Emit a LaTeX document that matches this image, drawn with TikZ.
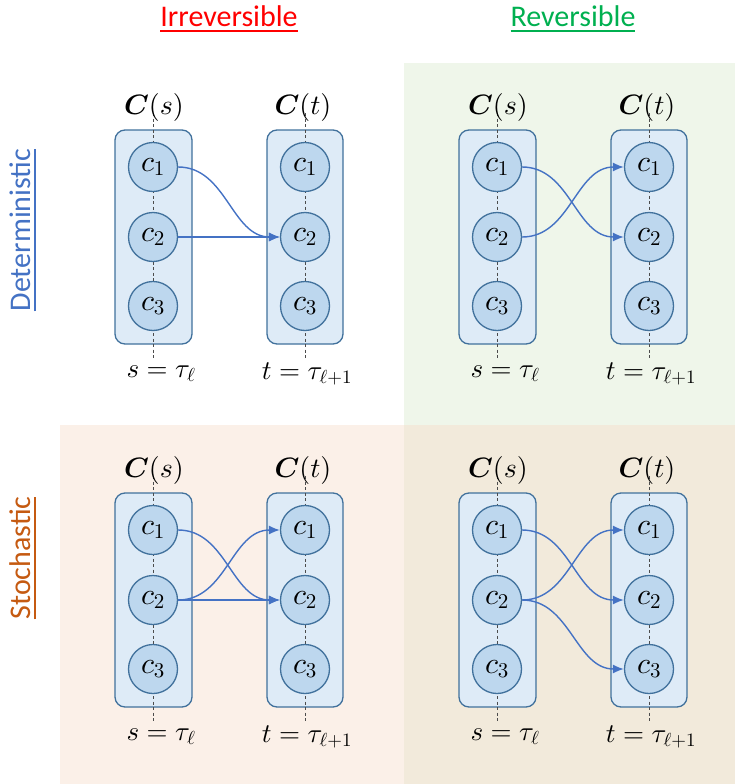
\documentclass[tikz,border=0pt]{standalone}
\usepackage{amsmath}
\usepackage[no-math]{fontspec}
\setmainfont{Carlito}
\usetikzlibrary{arrows.meta}

% scalable Computer Modern math at any size
\DeclareFontFamily{OML}{cmm}{\skewchar\font127}
\DeclareFontShape{OML}{cmm}{m}{it}{<->cmmi10}{}
\DeclareFontShape{OML}{cmm}{b}{it}{<->cmmib10}{}
\DeclareFontFamily{OT1}{cmr}{\hyphenchar\font45}
\DeclareFontShape{OT1}{cmr}{m}{n}{<->cmr10}{}
\DeclareFontShape{OT1}{cmr}{bx}{n}{<->cmbx10}{}
\DeclareFontFamily{OMS}{cmsy}{\skewchar\font48}
\DeclareFontShape{OMS}{cmsy}{m}{n}{<->cmsy10}{}
\DeclareFontShape{OMS}{cmsy}{b}{n}{<->cmbsy10}{}

\newcommand{\ulined}[1]{\vtop{\hbox{#1}\kern3pt\hrule height 2pt}}

\definecolor{boxfill}{HTML}{DEEBF7}
\definecolor{cellfill}{HTML}{BDD7EE}
\definecolor{boxline}{HTML}{41719C}
\definecolor{arrowblue}{HTML}{4472C4}
\definecolor{irrred}{HTML}{FF0000}
\definecolor{revgreen}{HTML}{00B050}
\definecolor{stoorange}{HTML}{C55A11}
\definecolor{bggreen}{HTML}{EFF6EA}
\definecolor{bgpeach}{HTML}{FBF0E8}
\definecolor{bgtan}{HTML}{F2EADB}

\tikzset{
  panelbox/.style={draw=boxline, fill=boxfill, line width=1.3pt, rounded corners=10pt},
  cell/.style={circle, draw=boxline, fill=cellfill, line width=1.3pt,
    minimum size=49pt, inner sep=0pt, font=\fontsize{30}{34}\selectfont},
  timeline/.style={draw=black!70, line width=.9pt, dash pattern=on 3pt off 2.5pt},
  head/.style={font=\fontsize{28}{32}\selectfont},
  foot/.style={font=\fontsize{27}{32}\selectfont},
  title/.style={font=\fontsize{30}{36}\selectfont},
  flow/.style={draw=arrowblue, line width=1.4pt, -{Latex[length=11pt,width=9pt]}},
}

\begin{document}
\begin{tikzpicture}[x=1pt,y=-1pt]
		\useasboundingbox (0,0) rectangle (735,784);
		
		% quadrant backgrounds
		\fill[bggreen] (404,63) rectangle (735,425);
		\fill[bgpeach] (60,425) rectangle (404,784);
		\fill[bgtan] (404,425) rectangle (735,784);
		
		\node[title, text=irrred] (irr) at (229,19) {\ulined{Irreversible}};
		\node[title, text=revgreen] (rev) at (573,19) {\ulined{Reversible}};
		\node[title, text=arrowblue, rotate=90] (det) at (23,230) {\ulined{Deterministic}};
		\node[title, text=stoorange, rotate=90] (sto) at (23,558) {\ulined{Stochastic}};
		
		% one panel per quadrant
		\foreach \p/\dx/\dy in {a/0/0, b/344/0, c/0/363, d/344/363}{
			\begin{scope}[shift={(\dx,\dy)}]
				\draw[panelbox] (115,130) rectangle (192,344);
				\draw[panelbox] (267,130) rectangle (343,344);
				\draw[timeline] (153,113) -- (153,358);
				\draw[timeline] (305,113) -- (305,358);
				\foreach \i/\y in {1/167, 2/237, 3/306}{
					\node[cell] (s\p\i) at (153,\y) {$c_\i$};
					\node[cell] (t\p\i) at (305,\y) {$c_\i$};
				}
				\node[head] (hs\p) at (154,107) {$\boldsymbol{C}(s)$};
				\node[head] (ht\p) at (303,107) {$\boldsymbol{C}(t)$};
				\node[foot] (fs\p) at (161,374) {$s=\tau_\ell$};
				\node[foot] (ft\p) at (307,374) {$t=\tau_{\ell+1}$};
			\end{scope}
		}
		
		\draw[flow] (sa1.east) to[out=0,in=180] (ta2.west);
		\draw[flow] (sa2.east) -- (ta2.west);
		
		\draw[flow] (sb1.east) to[out=0,in=180] (tb2.west);
		\draw[flow] (sb2.east) to[out=0,in=180] (tb1.west);
		
		\draw[flow] (sc1.east) to[out=0,in=180] (tc2.west);
		\draw[flow] (sc2.east) to[out=0,in=180] (tc1.west);
		\draw[flow] (sc2.east) -- (tc2.west);
		
		\draw[flow] (sd1.east) to[out=0,in=180] (td2.west);
		\draw[flow] (sd2.east) to[out=0,in=180] (td1.west);
		\draw[flow] (sd2.east) to[out=0,in=180] (td3.west);
\end{tikzpicture}
\end{document}
